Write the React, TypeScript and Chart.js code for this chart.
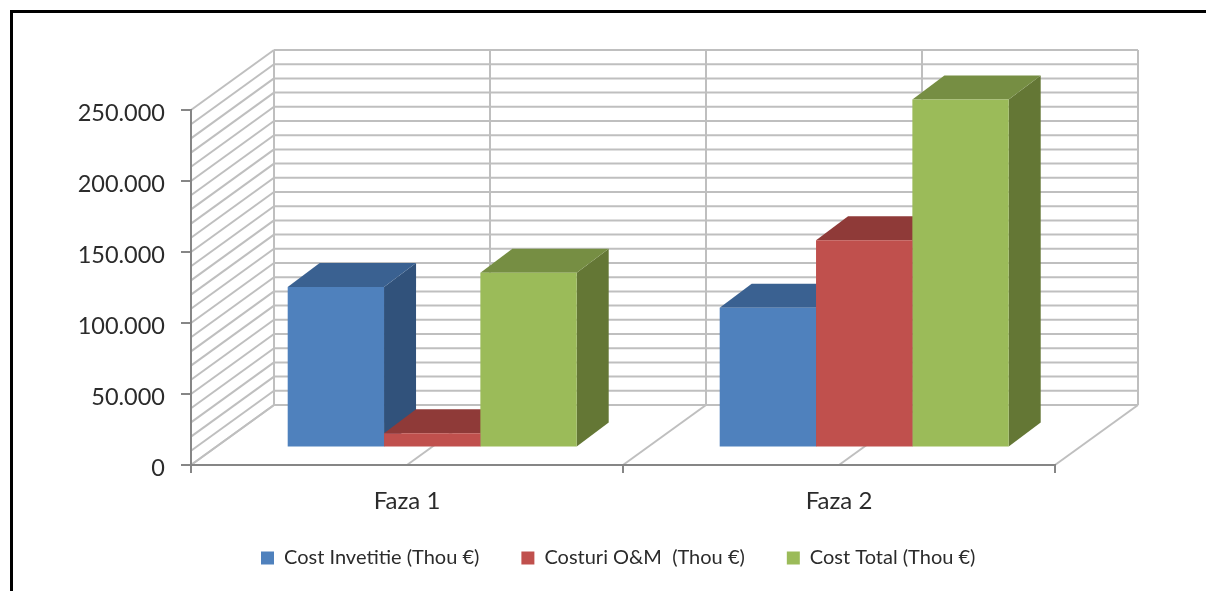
import React, { useEffect, useRef } from "react";
import { Chart, registerables } from "chart.js";

Chart.register(...registerables);

const categories = ["Faza 1", "Faza 2"];
const costInvestitie = [113000, 98500];
const costuriOM = [10000, 146000];
const costTotal = [123000, 245000];
const seriesNames = ["Cost Invetitie (Thou €)", "Costuri O&M  (Thou €)", "Cost Total (Thou €)"];
const frontColors = ["#4f81bd", "#c0504d", "#9bbb59"];
const topColors = ["#3a6191", "#8f3a38", "#768e43"];
const sideColors = ["#31527b", "#7a3331", "#647735"];
const yMax = 250000;
const yLabelStep = 50000;
const gridStep = 10000;

const FONT = "Lato, 'Open Sans', sans-serif";
const TEXT = "#2b2b2b";
const WALL = "#bfbfbf";
const AXIS = "#868686";

const wallDx = 83;
const wallDy = -60;
const barShiftX = 25.2;
const barShiftY = -17.5;
const barDepthX = 32;
const barDepthY = -24;

const scene = {
  id: "scene3d",
  beforeDraw(chart: any) {
    const { ctx, scales } = chart;
    const x = scales.x;
    const y = scales.y;
    ctx.save();
    ctx.fillStyle = "#ffffff";
    ctx.fillRect(0, 0, chart.width, chart.height);
    ctx.fillStyle = "#000000";
    ctx.fillRect(10, 10, chart.width - 10, 3);
    ctx.fillRect(10, 10, 3, chart.height - 10);

    ctx.strokeStyle = WALL;
    ctx.lineWidth = 2;
    const line = (a: number, b: number, c: number, d: number) => {
      ctx.beginPath();
      ctx.moveTo(a, b);
      ctx.lineTo(c, d);
      ctx.stroke();
    };
    for (let v = 0; v <= yMax; v += gridStep) {
      const py = y.getPixelForValue(v);
      line(x.left, py, x.left + wallDx, py + wallDy);
      line(x.left + wallDx, py + wallDy, x.right + wallDx, py + wallDy);
    }
    const parts = categories.length * 2;
    for (let k = 0; k <= parts; k++) {
      const px = x.left + ((x.right - x.left) * k) / parts;
      line(px + wallDx, y.top + wallDy, px + wallDx, y.bottom + wallDy);
      line(px, y.bottom, px + wallDx, y.bottom + wallDy);
    }
    ctx.restore();
  },
  beforeDatasetsDraw(chart: any) {
    const { ctx } = chart;
    ctx.save();
    ctx.translate(barShiftX, barShiftY);
    chart.data.datasets.forEach((_: any, i: number) => {
      chart.getDatasetMeta(i).data.forEach((bar: any) => {
        const x0 = bar.x - bar.width / 2;
        const x1 = bar.x + bar.width / 2;
        ctx.fillStyle = sideColors[i];
        ctx.beginPath();
        ctx.moveTo(x1, bar.y);
        ctx.lineTo(x1 + barDepthX, bar.y + barDepthY);
        ctx.lineTo(x1 + barDepthX, bar.base + barDepthY);
        ctx.lineTo(x1, bar.base);
        ctx.closePath();
        ctx.fill();
        ctx.fillStyle = topColors[i];
        ctx.beginPath();
        ctx.moveTo(x0, bar.y);
        ctx.lineTo(x1, bar.y);
        ctx.lineTo(x1 + barDepthX, bar.y + barDepthY);
        ctx.lineTo(x0 + barDepthX, bar.y + barDepthY);
        ctx.closePath();
        ctx.fill();
      });
    });
  },
  afterDatasetsDraw(chart: any) {
    chart.ctx.restore();
  },
  afterLayout(chart: any) {
    const lg = chart.legend;
    const pad = lg.options.labels.padding;
    lg.left = 261 - pad;
    lg.right = 1206;
    lg.top = 558 - pad - 10;
    lg.bottom = lg.top + lg.height;
  },
};

export default function App() {
  const ref = useRef<HTMLCanvasElement | null>(null);
  useEffect(() => {
    if (!ref.current) return;
    const values = [costInvestitie, costuriOM, costTotal];
    const chart = new Chart(ref.current, {
      type: "bar",
      data: {
        labels: categories,
        datasets: values.map((data, i) => ({
          label: seriesNames[i],
          data,
          backgroundColor: frontColors[i],
          borderWidth: 0,
          categoryPercentage: 0.669,
          barPercentage: 1,
          clip: false,
        })),
      } as any,
      options: {
        responsive: false,
        animation: false,
        layout: { padding: { top: 110, left: 0, right: 151, bottom: 0 } },
        plugins: {
          title: { display: false },
          tooltip: { enabled: false },
          legend: {
            position: "bottom",
            align: "start",
            labels: {
              boxWidth: 13,
              boxHeight: 13,
              padding: 42,
              color: TEXT,
              font: { family: FONT, size: 20 },
            },
          },
        },
        scales: {
          x: {
            grid: { drawOnChartArea: false, drawTicks: true, tickLength: 8, color: AXIS, lineWidth: 2 },
            border: { color: AXIS, width: 2 },
            ticks: { padding: 14, color: TEXT, font: { family: FONT, size: 24 }, maxRotation: 0 },
            afterFit(scale: any) {
              scale.height = 126 - (scale.chart.legend?.height ?? 0);
            },
          },
          y: {
            min: 0,
            max: yMax,
            grid: { drawOnChartArea: false, drawTicks: true, tickLength: 10, color: AXIS, lineWidth: 2 },
            border: { color: AXIS, width: 2 },
            ticks: {
              stepSize: yLabelStep,
              padding: 16,
              labelOffset: 3,
              color: TEXT,
              font: { family: FONT, size: 23.5 },
              callback: (v: any) => String(v).replace(/\B(?=(\d{3})+$)/g, "."),
            },
            afterFit(scale: any) {
              scale.width = 191;
            },
          },
        },
      },
      plugins: [scene],
    } as any);
    return () => chart.destroy();
  }, []);
  return (
    <div style={{ position: "fixed", left: 0, top: 0, width: 1206, height: 591, background: "#fff" }}>
      <canvas ref={ref} width={1206} height={591} style={{ display: "block" }} />
    </div>
  );
}
